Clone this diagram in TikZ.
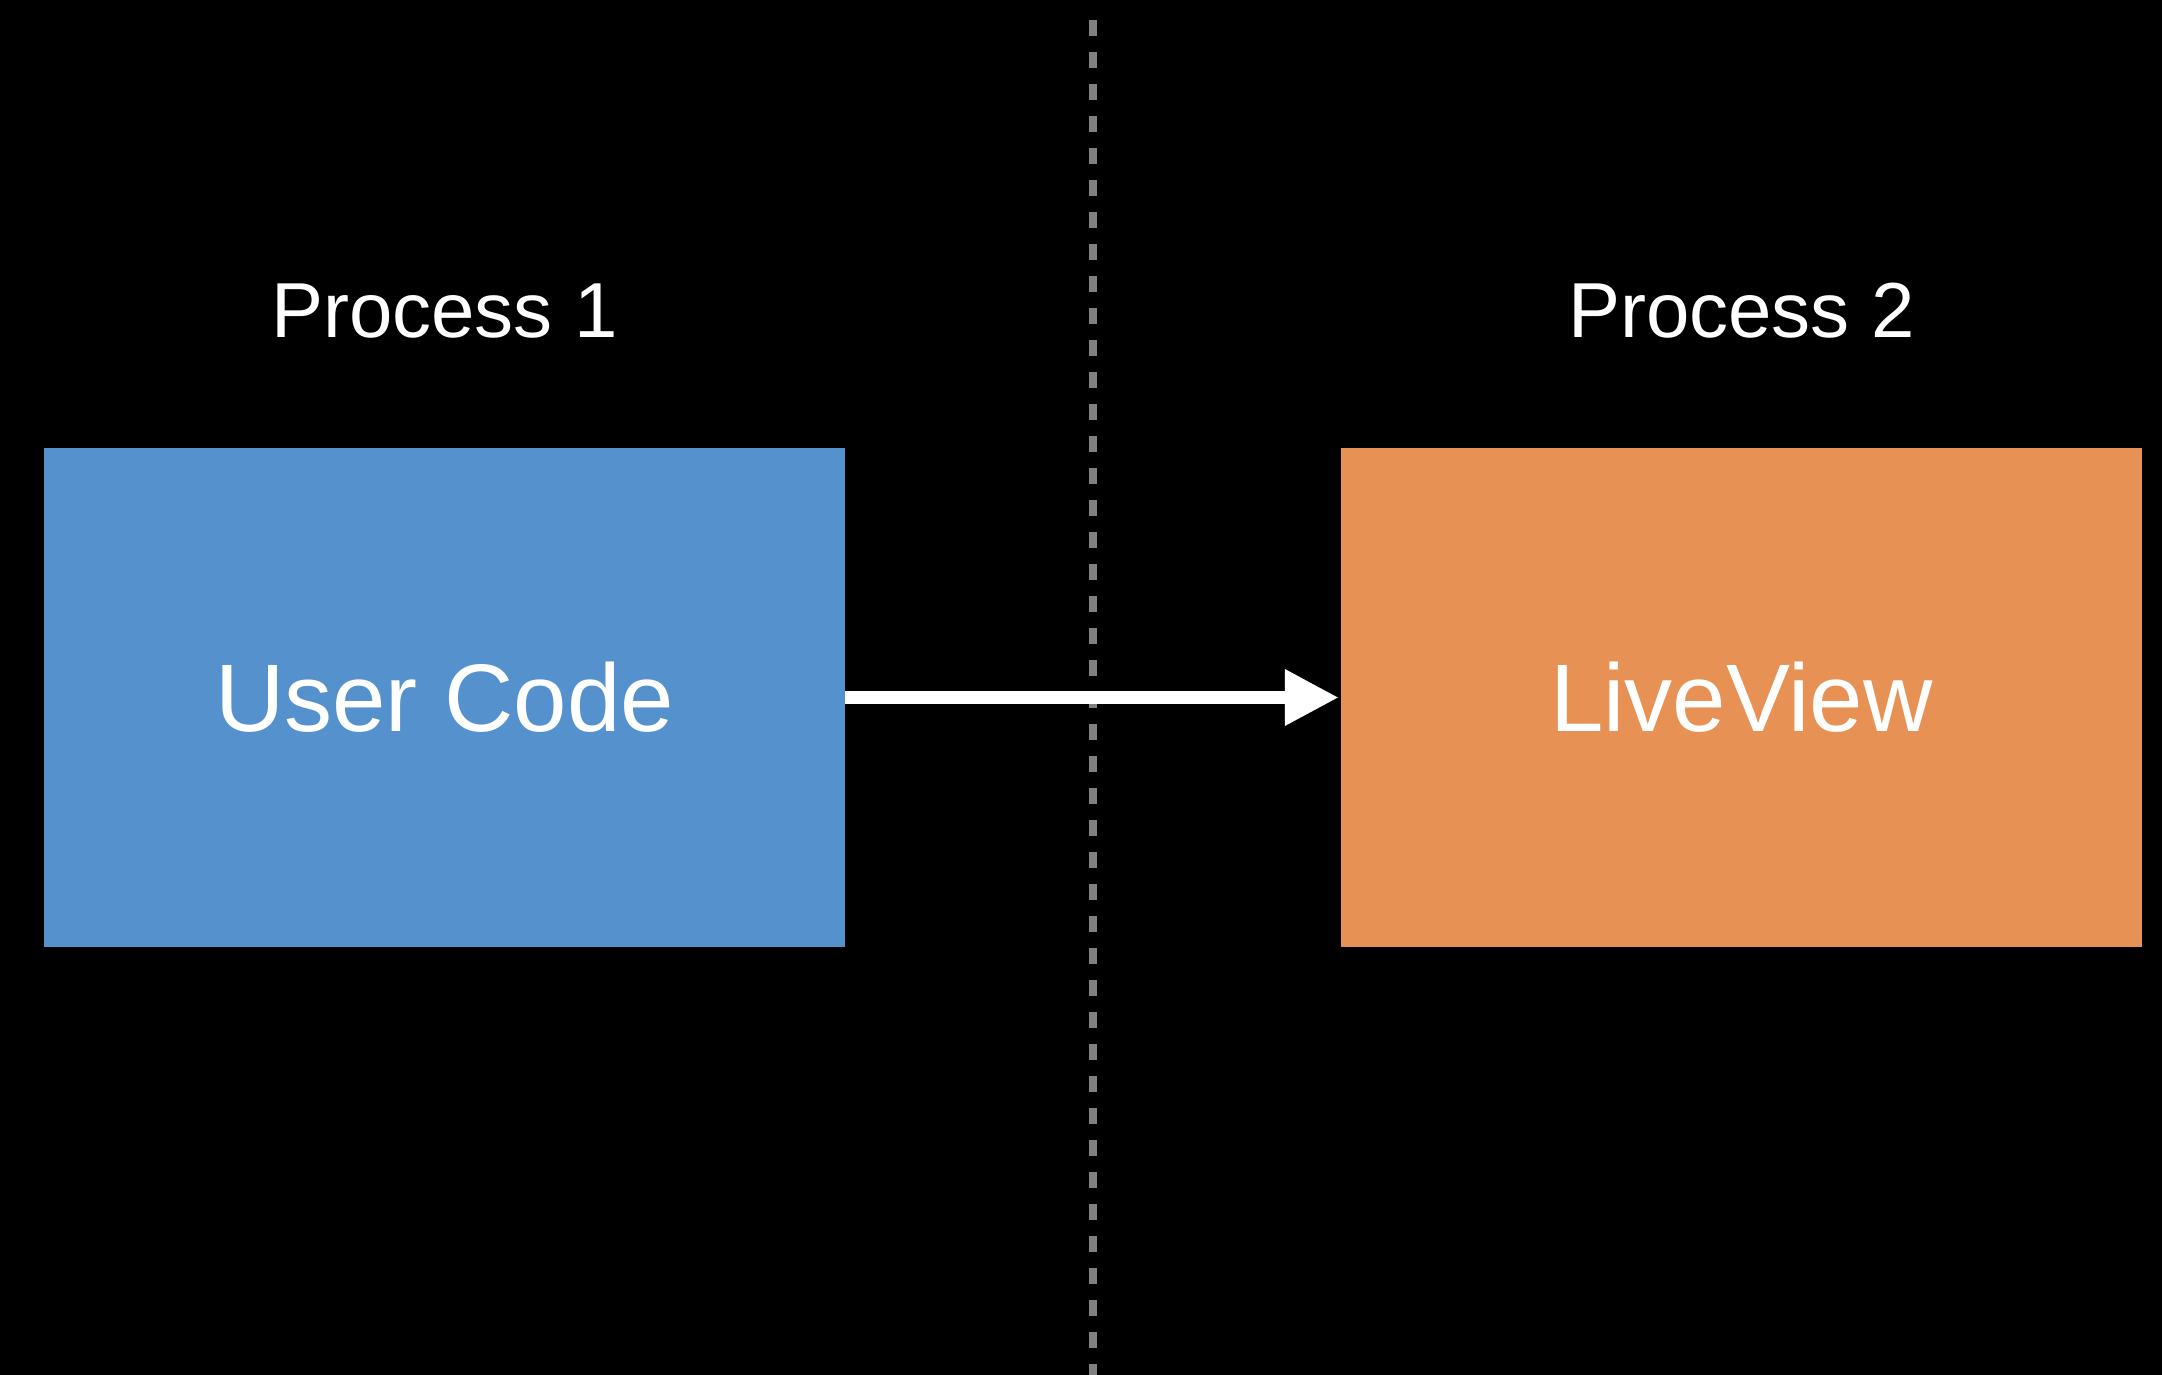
\documentclass[tikz,border=0pt]{standalone}
\usepackage{fontspec}
\setmainfont{Liberation Sans}
\usepackage{tikz}
\usetikzlibrary{positioning,arrows.meta}
\definecolor{UserBlue}{RGB}{85,145,204}
\definecolor{LiveOrange}{RGB}{231,145,84}
\definecolor{SplitGray}{RGB}{128,128,128}
\tikzset{
  % Process box
  procbox/.style={
    rectangle,
    minimum width=801pt,
    minimum height=499pt,
    inner sep=0pt,
    text=white,
    font=\fontsize{96}{110}\selectfont
  },
  % Process title above box
  proclabel/.style={
    text=white,
    inner sep=0pt,
    font=\fontsize{78}{90}\selectfont
  },
  % Message arrow
  msgarrow/.style={
    draw=white,
    line width=13pt,
    -{Triangle[length=54pt,width=53pt]}
  },
  % Process boundary
  boundary/.style={
    draw=SplitGray,
    line width=8pt,
    dash pattern=on 16pt off 16pt
  }
}
\begin{document}
\begin{tikzpicture}[x=1pt,y=-1pt]
  % Background
  \fill[black] (0,0) rectangle (2162,1375);
  \useasboundingbox (0,0) rectangle (2162,1375);
  % Boxes
  \node[procbox, fill=UserBlue] (user) at (444.5,697.5) {User Code};
  \node[procbox, fill=LiveOrange] (live) at (1741.5,697.5) {LiveView};
  % Titles
  \node[proclabel, above=110pt of user.north, anchor=base] (proc1) {Process 1};
  \node[proclabel, above=110pt of live.north, anchor=base] (proc2) {Process 2};
  % Boundary line
  \coordinate (splittop) at (1093,20);
  \coordinate (splitbot) at (1093,1375);
  \draw[boundary] (splittop) -- (splitbot);
  % Arrow
  \draw[msgarrow] (user.east) -- ([xshift=-2pt]live.west);
\end{tikzpicture}
\end{document}
